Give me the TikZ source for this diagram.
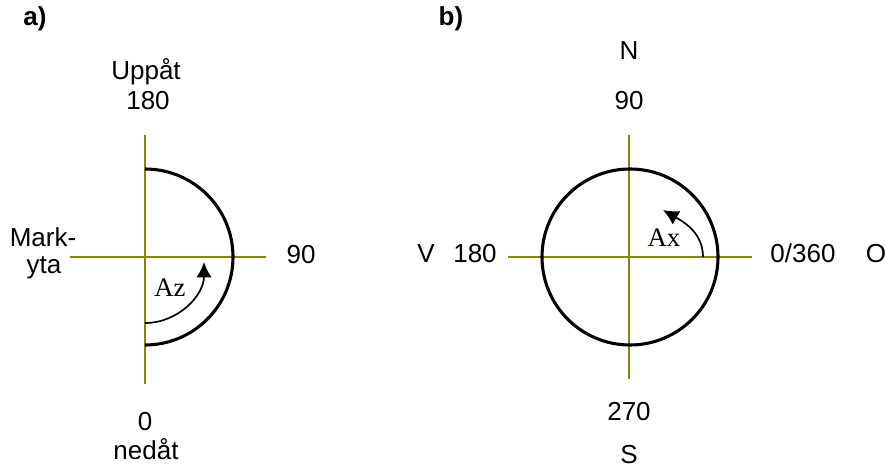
\documentclass[tikz,border=0pt]{standalone}
\usepackage{fontspec}
\setmainfont{Liberation Sans}
\newfontfamily\anglefont{Liberation Serif}
\usetikzlibrary{arrows.meta}
\tikzset{axis/.style={olive, line width=1.4pt}}
\tikzset{rim/.style={black, line width=2.2pt}}
\tikzset{turn/.style={-{Latex[length=11pt, width=11pt]}, line width=1.2pt}}
\tikzset{lbl/.style={font=\fontsize{18.5}{22}\selectfont, anchor=base, inner sep=0pt}}

\begin{document}
\begin{tikzpicture}[x=0.025cm, y=0.025cm]
            \useasboundingbox (0,0) rectangle (886,468);
            \coordinate (za) at (145,211); \coordinate (xa) at (630,211);
            % a) zenith half circle
            \draw[axis] (145,333) -- (145,84) (70,211) -- (266,211);
            \draw[rim] (145,299) arc[start angle=90, end angle=-90, radius=88];
            \coordinate (zs) at (145,145); \coordinate (ze) at (204,206);
            \draw[turn] (zs) to[out=0, in=-90] (ze);
            \node[lbl, font=\fontsize{18.5}{22}\bfseries] (la) at (35,442) {a)};
            \node[lbl] (up) at (146,388) {Uppåt};
            \node[lbl] (z180) at (148,358) {180};
            \node[lbl] (z0) at (145,38) {0};
            \node[lbl] (down) at (146,9) {nedåt};
            \node[lbl] (mark) at (43,222) {Mark-};
            \node[lbl] (yta) at (44,195) {yta};
            \node[lbl] (z90) at (301,205) {90};
            \node[lbl, font=\fontsize{19}{22}\anglefont] (az) at (170,172) {Az};
            % b) azimuth circle
            \draw[axis] (629,333) -- (629,89) (508,211) -- (752,211);
            \draw[rim] (xa) circle[radius=88];
            \coordinate (xs) at (703,211); \coordinate (xe) at (663,258);
            \draw[turn] (xs) to[out=90, in=-30] (xe);
            \node[lbl, font=\fontsize{18.5}{22}\bfseries] (lb) at (451,442) {b)};
            \node[lbl] (north) at (629,408) {N};
            \node[lbl] (x90) at (629,358) {90};
            \node[lbl] (x270) at (629,48) {270};
            \node[lbl] (south) at (629,5) {S};
            \node[lbl] (west) at (426,206) {V};
            \node[lbl] (x180) at (475,206) {180};
            \node[lbl] (x0) at (803,206) {0/360};
            \node[lbl] (east) at (876,206) {O};
            \node[lbl, font=\fontsize{19}{22}\anglefont] (ax) at (664,222) {Ax};
        \end{tikzpicture}
\end{document}
